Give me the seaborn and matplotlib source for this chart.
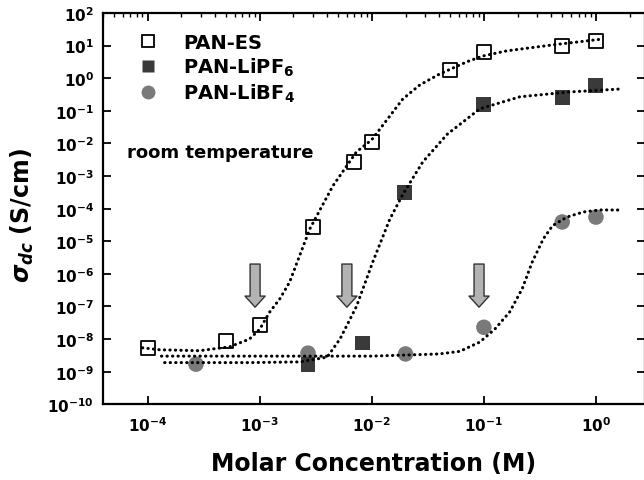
import numpy as np
import pandas as pd
import matplotlib
matplotlib.use("Agg")
import matplotlib.pyplot as plt
import seaborn as sns
from matplotlib.ticker import LogLocator, NullLocator, NullFormatter
from matplotlib.lines import Line2D

# ---------------- data ----------------
es_conc = [1e-4, 5e-4, 1e-3, 3e-3, 7e-3, 1e-2, 5e-2, 1e-1, 0.5, 1.0]
es_sigma = [5.2e-9, 8.7e-9, 2.7e-8, 2.7e-5, 2.7e-3, 1.1e-2, 1.8, 6.3, 10.0, 14.0]

pf6_conc = [2.7e-3, 8.3e-3, 1.95e-2, 0.1, 0.5, 1.0]
pf6_sigma = [1.7e-9, 7.6e-9, 3.2e-4, 0.16, 0.25, 0.58]

bf4_conc = [2.7e-4, 2.7e-3, 2.0e-2, 0.1, 0.5, 1.0]
bf4_sigma = [1.7e-9, 3.7e-9, 3.5e-9, 2.3e-8, 3.9e-5, 5.5e-5]

# fitted curves
es_fit_x = [9.0e-5, 1.28e-4, 2.9e-4, 5.4e-4, 8.1e-4, 1.0e-3, 1.23e-3, 1.51e-3, 1.85e-3,
            2.8e-3, 4.5e-3, 7.3e-3, 1.0e-2, 1.36e-2, 1.89e-2, 2.68e-2, 4.05e-2, 4.87e-2,
            7.07e-2, 9.8e-2, 0.16, 0.41, 1.16]
es_fit_y = [5.4e-9, 4.7e-9, 4.4e-9, 5.8e-9, 1.0e-8, 2.0e-8, 6.8e-8, 1.7e-7, 5.6e-7,
            2.4e-5, 5.0e-4, 5.5e-3, 1.3e-2, 5.2e-2, 0.23, 0.62, 1.36, 1.8,
            3.2, 4.8, 6.9, 10.5, 16.0]

pf6_fit_x = [1.42e-4, 8.1e-4, 2.3e-3, 4.0e-3, 5.2e-3, 7.3e-3, 1.02e-2, 1.45e-2, 1.9e-2,
             2.85e-2, 4.7e-2, 9.2e-2, 0.21, 0.59, 1.7]
pf6_fit_y = [1.9e-9, 1.9e-9, 2.0e-9, 2.8e-9, 1.0e-8, 1.0e-7, 2.3e-6, 4.8e-5, 2.8e-4,
             2.7e-3, 1.9e-2, 0.115, 0.27, 0.38, 0.47]

bf4_fit_x = [1.33e-4, 1.0e-3, 1.0e-2, 4.0e-2, 6.1e-2, 9.2e-2, 0.125, 0.17, 0.22, 0.27,
             0.34, 0.41, 0.55, 0.77, 1.09, 1.74]
bf4_fit_y = [3.0e-9, 3.0e-9, 3.0e-9, 3.5e-9, 4.2e-9, 8.1e-9, 2.0e-8, 6.8e-8, 3.5e-7, 2.3e-6,
             1.2e-5, 3.0e-5, 5.5e-5, 7.9e-5, 9.1e-5, 9.1e-5]

arrow_x = [9.1e-4, 6.0e-3, 0.0906]
arrow_top = 2.0e-6
arrow_tip = 9.5e-8

labels = ["PAN-ES", "PAN-LiPF$_6$", "PAN-LiBF$_4$"]

# ---------------- style ----------------
sns.set_theme(style="ticks")
plt.rcParams["font.family"] = ["DejaVu Sans"]
plt.rcParams["font.weight"] = "bold"
plt.rcParams["text.color"] = "black"
plt.rcParams["axes.labelcolor"] = "black"
plt.rcParams["xtick.color"] = "black"
plt.rcParams["ytick.color"] = "black"
plt.rcParams["mathtext.fontset"] = "custom"
plt.rcParams["mathtext.rm"] = "DejaVu Sans:bold"
plt.rcParams["mathtext.bf"] = "DejaVu Sans:bold"
plt.rcParams["mathtext.it"] = "DejaVu Sans:bold:italic"
plt.rcParams["mathtext.default"] = "rm"

fig = plt.figure(figsize=(6.44, 4.81), dpi=100)
ax = fig.add_axes([103 / 644, 1 - 405.3 / 481, 542 / 644, 391.3 / 481])
ax.set_xscale("log")
ax.set_yscale("log")

c_dark = "#3a3a3a"
c_grey = "#7a7a7a"

sns.scatterplot(x=bf4_conc, y=bf4_sigma, ax=ax, marker="o", s=125, color=c_grey,
                edgecolor="none", linewidth=0, zorder=2)
sns.scatterplot(x=pf6_conc, y=pf6_sigma, ax=ax, marker="s", s=115, color=c_dark,
                edgecolor="none", linewidth=0, zorder=2.1)
sns.scatterplot(x=es_conc, y=es_sigma, ax=ax, marker="s", s=95, facecolor="white",
                edgecolor="black", linewidth=1.3, zorder=2.2)

dot = (0, (0.1, 1.7))
for fx, fy in [(es_fit_x, es_fit_y), (pf6_fit_x, pf6_fit_y), (bf4_fit_x, bf4_fit_y)]:
    sns.lineplot(x=fx, y=fy, ax=ax, color="black", linewidth=2.2, linestyle=dot,
                 dash_capstyle="round", estimator=None, sort=False, zorder=3)

for xa in arrow_x:
    ax.annotate("", xy=(xa, arrow_tip), xytext=(xa, arrow_top),
                arrowprops=dict(arrowstyle="simple,head_length=0.8,head_width=1.45,tail_width=0.72",
                                mutation_scale=10, facecolor="#b3b3b3", edgecolor="#333333",
                                linewidth=1.0, shrinkA=0, shrinkB=0), zorder=4)

ax.set_xlim(4.0e-5, 2.74)
ax.set_ylim(1e-10, 1e2)

ax.xaxis.set_major_locator(LogLocator(base=10, numticks=20))
ax.yaxis.set_major_locator(LogLocator(base=10, numticks=20))
ax.xaxis.set_minor_locator(LogLocator(base=10, subs=np.arange(2, 10), numticks=20))
ax.xaxis.set_minor_formatter(NullFormatter())
ax.yaxis.set_minor_locator(NullLocator())

for sp in ax.spines.values():
    sp.set_linewidth(1.6)
    sp.set_color("black")

ax.tick_params(which="major", direction="in", length=5.5, width=1.3, top=True, right=True,
               bottom=True, left=True, labelsize=11, colors="black", pad=6.5)
ax.tick_params(which="minor", direction="in", length=3, width=1.0, top=True, bottom=False,
               left=False, right=False)
ax.tick_params(axis="x", which="major", pad=8)

ax.set_xlabel("Molar Concentration (M)", fontsize=17, fontweight="bold", labelpad=12)
ax.set_ylabel(r"$\mathit{\sigma_{dc}}$ (S/cm)", fontsize=17, fontweight="bold")
ax.yaxis.set_label_coords(-0.1236, 0.484)

ax.text(0.044, 0.632, "room temperature", transform=ax.transAxes, fontsize=13,
        fontweight="bold", va="baseline", ha="left", color="black")

handles = [
    Line2D([], [], marker="s", linestyle="none", markersize=8.5, markerfacecolor="white",
           markeredgecolor="black", markeredgewidth=1.3),
    Line2D([], [], marker="s", linestyle="none", markersize=9, markerfacecolor=c_dark,
           markeredgecolor="none"),
    Line2D([], [], marker="o", linestyle="none", markersize=10, markerfacecolor=c_grey,
           markeredgecolor="none"),
]
leg = ax.legend(handles, labels, loc="upper left", bbox_to_anchor=(0.065, 0.95),
                frameon=False, fontsize=14, handlelength=1.0, handletextpad=1.3,
                labelspacing=0.2, borderpad=0, borderaxespad=0)
for t in leg.get_texts():
    t.set_color("black")

fig.savefig("out.png", dpi=100)
